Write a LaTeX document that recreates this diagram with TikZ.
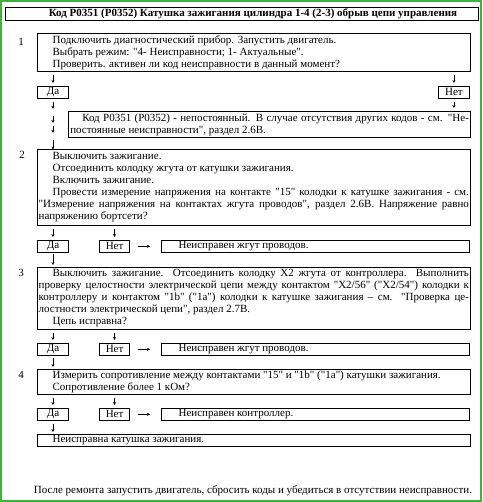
\documentclass[tikz,border=0pt]{standalone}
\usepackage{fontspec}
\setmainfont{Liberation Serif}[Ligatures=TeXOff]
\usetikzlibrary{arrows.meta,calc}
\newcommand\fs{\fontsize{11}{12}\selectfont\parindent=0pt}
\newcommand\NS{\spaceskip=0pt\xspaceskip=0pt\relax}
\newcommand\JI[1]{\hspace*{14pt}\makebox[416.3pt][s]{\NS #1}}
\newcommand\JF[1]{\makebox[430.3pt][s]{\NS #1}}
\newcommand\IN{\hspace*{14pt}}
\definecolor{framegreen}{RGB}{60,180,60}
\begin{document}
\begin{tikzpicture}[x=1pt,y=-1pt,
  box/.style={draw, line width=0.9pt, anchor=north west, inner xsep=1.5pt, inner ysep=0pt, align=left, font=\fs, execute at begin node=\NS},
  wide/.style={box, text width=430.3pt},
  yn/.style={draw, line width=0.9pt, anchor=north west, inner sep=0pt, minimum height=11.7pt, font=\fs},
  res/.style={box, text width=305.6pt, minimum height=11.7pt},
  arr/.style={-{Stealth[length=3pt,width=3pt]}, line width=0.5pt, shorten <=3pt, shorten >=3pt},
  num/.style={font=\fs, inner sep=0pt}]
\fill[white] (0,0) rectangle (482,502);
\draw[framegreen, line width=2pt] (1,1) rectangle (481,501);
\useasboundingbox (0,0) rectangle (482,502);

% title
\node[draw, line width=0.9pt, anchor=north west, minimum width=473pt, minimum height=13.5pt, inner sep=0pt] (tbox) at (5,7) {};
\node[font=\fs\bfseries, inner sep=0pt] (title) at (253,14) {Код P0351 (P0352) Катушка зажигания цилиндра 1-4 (2-3) обрыв цепи управления};

% step 1
\node[num] (n1) at (21,42) {1};
\node[wide, minimum height=38pt] (b1) at (36.7,33) {\IN Подключить диагностический прибор. Запустить двигатель.\\
\IN Выбрать режим: "4- Неисправности; 1- Актуальные".\\
\IN Проверить. активен ли код неисправности в данный момент?};
\node[yn, minimum width=31.6pt] (da1) at (36.7,86) {Да};
\node[yn, minimum width=31.6pt] (net1) at (437.7,86) {Нет};
\node[box, text width=398.7pt, minimum height=26.5pt] (kod) at (68.3,111) {\hspace*{12pt}\makebox[386.7pt][s]{\NS Код P0351 (P0352) - непостоянный. В случае отсутствия других кодов - см. "Не-}\\
постоянные неисправности", раздел 2.6В.};
\draw[arr] (da1 |- b1.south) -- (da1.north);
\draw[arr] (net1 |- b1.south) -- (net1.north);
\draw[arr] (net1.south) -- (net1 |- kod.north);

% step 2
\node[num] (n2) at (22,155) {2};
\node[wide, minimum height=76pt] (b2) at (36.7,149) {\IN Выключить зажигание.\\
\IN Отсоединить колодку жгута от катушки зажигания.\\
\IN Включить зажигание.\\
\JI{Провести измерение напряжения на контакте "15" колодки к катушке зажигания - см.}\\
\JF{"Измерение напряжения на контактах жгута проводов", раздел 2.6В. Напряжение равно}\\
напряжению бортсети?};
\foreach \a/\b in {3.3/10.3, 17.3/24.3, 27.3/34.3, 41.3/51} {
  \draw[arr, shorten <=0pt, shorten >=0pt] ($(da1.south)+(0,\a)$) -- ($(da1.south)+(0,\b)$);
}
\node[yn, minimum width=31.6pt] (da2) at (36.7,240) {Да};
\node[yn, minimum width=30.3pt] (net2) at (99,240) {Нет};
\node[res] (r2) at (160.7,240) {\hspace*{16pt}Неисправен жгут проводов.};
\draw[arr] (da2 |- b2.south) -- (da2.north);
\draw[arr] (net2 |- b2.south) -- (net2.north);
\draw[arr, shorten <=7.7pt, shorten >=10.7pt] (net2.east) -- (r2.west);

% step 3
\node[num] (n3) at (21,273) {3};
\node[wide, minimum height=62pt] (b3) at (36.7,267) {\JI{Выключить зажигание. Отсоединить колодку X2 жгута от контроллера. Выполнить}\\
\JF{проверку целостности электрической цепи между контактом "X2/56" ("X2/54") колодки к}\\
\JF{контроллеру и контактом "1b" ("1a") колодки к катушке зажигания – см. "Проверка це-}\\
лостности электрической цепи", раздел 2.7В.\\
\IN Цепь исправна?};
\draw[arr, shorten <=1pt, shorten >=2pt] (da2.south) -- (da2 |- b3.north);
\node[yn, minimum width=31.6pt] (da3) at (36.7,343) {Да};
\node[yn, minimum width=30.3pt] (net3) at (99,343) {Нет};
\node[res] (r3) at (160.7,343) {\hspace*{16pt}Неисправен жгут проводов.};
\draw[arr] (da3 |- b3.south) -- (da3.north);
\draw[arr] (net3 |- b3.south) -- (net3.north);
\draw[arr, shorten <=7.7pt, shorten >=10.7pt] (net3.east) -- (r3.west);

% step 4
\node[num] (n4) at (21,375) {4};
\node[wide, minimum height=25pt] (b4) at (36.7,369) {\IN Измерить сопротивление между контактами "15" и "1b" ("1a") катушки зажигания.\\
\IN Сопротивление более 1 кОм?};
\draw[arr, shorten <=2pt, shorten >=2pt] (da3.south) -- (da3 |- b4.north);
\node[yn, minimum width=31.6pt] (da4) at (36.7,408) {Да};
\node[yn, minimum width=30.3pt] (net4) at (99,408) {Нет};
\node[res] (r4) at (160.7,408) {\hspace*{16pt}Неисправен контроллер.};
\draw[arr] (da4 |- b4.south) -- (da4.north);
\draw[arr] (net4 |- b4.south) -- (net4.north);
\draw[arr, shorten <=7.7pt, shorten >=10.7pt] (net4.east) -- (r4.west);

% final
\node[wide, minimum height=12pt] (b5) at (36.7,434) {\IN Неисправна катушка зажигания.};
\draw[arr, shorten <=3pt, shorten >=2pt] (da4.south) -- (da4 |- b5.north);

% footer
\node[font=\fs, inner sep=0pt] (foot) at (253,491) {После ремонта запустить двигатель, сбросить коды и убедиться в отсутствии неисправности.};
\end{tikzpicture}
\end{document}
